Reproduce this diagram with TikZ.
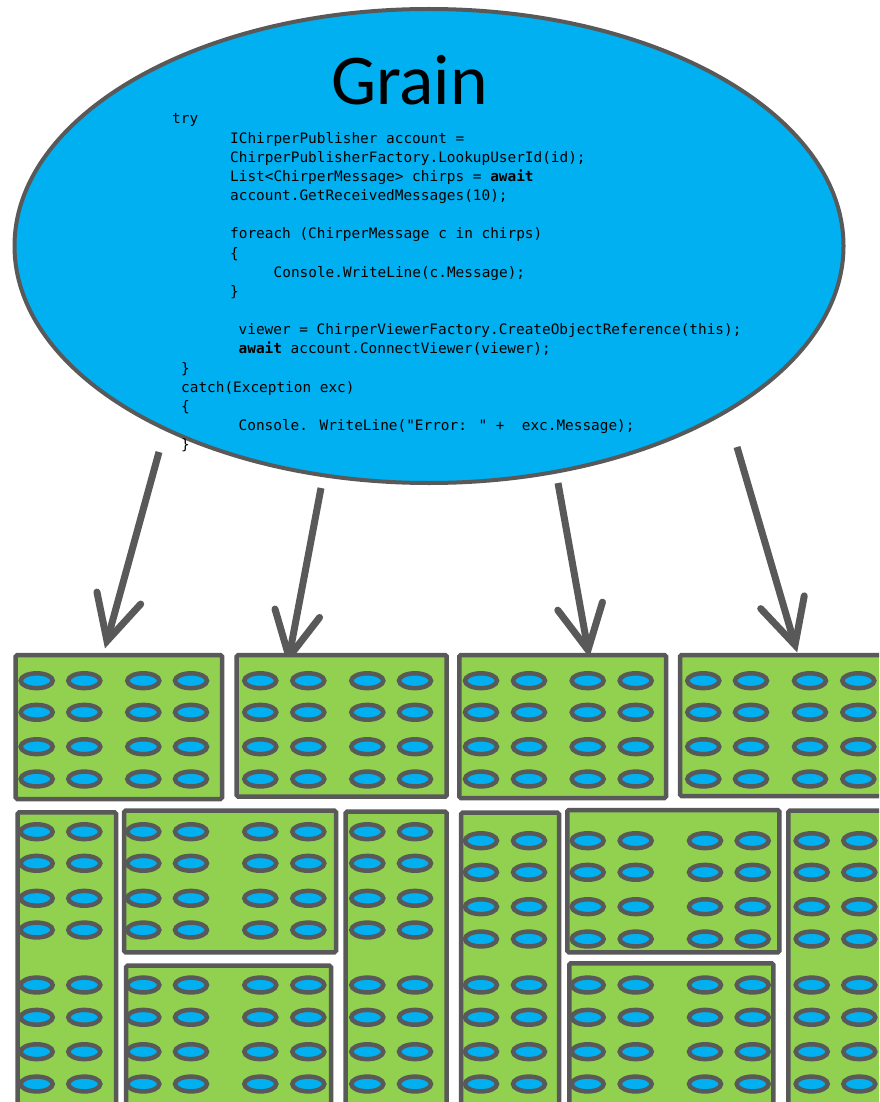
\documentclass[tikz,border=0pt]{standalone}
\usepackage{fontspec}
\usetikzlibrary{shapes.geometric,calc}
\newfontfamily\codefont{DejaVu Sans Mono}
\newfontfamily\grainfont{Carlito}
\definecolor{grainblue}{HTML}{00B0F0}
\definecolor{boxgreen}{HTML}{92D050}
\definecolor{edgegray}{HTML}{595959}
\begin{document}
\begin{tikzpicture}[x=1pt,y=-1pt,
  code/.style={anchor=base west,inner sep=0pt,font=\codefont\fontsize{14.4}{17}\selectfont},
  grainshape/.style={draw=edgegray,fill=grainblue,line width=4pt,ellipse,inner sep=0pt,minimum width=829pt,minimum height=474pt},
  box/.style={draw=edgegray,fill=boxgreen,line width=4.5pt,rounded corners=1.5pt},
  cell/.style={draw=edgegray,fill=grainblue,line width=4.5pt},
  shaft/.style={draw=edgegray,line width=7pt},
  barb/.style={draw=edgegray,line width=7pt,line cap=round,line join=miter}]
\useasboundingbox (0,0) rectangle (879,1102);
\clip (0,0) rectangle (879,1102);

% Grain ellipse
\node[grainshape] (grain) at (429,246) {};
\node[anchor=base,inner sep=0pt,font=\grainfont\fontsize{71.5}{80}\selectfont] (title) at (409.5,105) {Grain};

% code
\node[code] (l0) at (172,124) {try};
\node[code] (l1) at (230,143.2) {IChirperPublisher account =};
\node[code] (l2) at (230,162.3) {ChirperPublisherFactory.LookupUserId(id);};
\node[code] (l3) at (230,181.5) {List<ChirperMessage> chirps = \textbf{await}};
\node[code] (l4) at (230,200.6) {account.GetReceivedMessages(10);};
\node[code] (l5) at (230,238.9) {foreach (ChirperMessage c in chirps)};
\node[code] (l6) at (230,258) {\{};
\node[code] (l7) at (273.5,277.2) {Console.WriteLine(c.Message);};
\node[code] (l8) at (230,296.4) {\}};
\node[code] (l9) at (238.5,334.7) {viewer = ChirperViewerFactory.CreateObjectReference(this);};
\node[code] (l10) at (238.5,353.8) {\textbf{await} account.ConnectViewer(viewer);};
\node[code] (l11) at (181,373) {\}};
\node[code] (l12) at (181,392.1) {catch(Exception exc)};
\node[code] (l13) at (181,411.3) {\{};
\node[code] (l14) at (238.5,430.4) {Console. WriteLine("Error: " +\ \ exc.Message);};
\node[code] (l15) at (181,449.6) {\}};

% arrows
\coordinate (s1) at (159,452);   \coordinate (t1) at (107,641);
\coordinate (s2) at (321,488);   \coordinate (t2) at (289,657);
\coordinate (s3) at (558,483);   \coordinate (t3) at (588,650);
\coordinate (s4) at (737,447);   \coordinate (t4) at (795,645);
\foreach \i in {1,2,3,4}{
  \draw[shaft] (s\i) -- (t\i);
  \draw[barb] ($(t\i)!50pt!27:(s\i)$) -- (t\i) -- ($(t\i)!50pt!-27:(s\i)$);
}

% top row boxes
\draw[box] (15.7,655) rectangle (222,799);
\draw[box] (236.7,655) rectangle (446.7,796.7);
\draw[box] (459.3,655) rectangle (666,798);
\draw[box] (680,655) rectangle (905,796);
\foreach \x in {36.7,84.3,143.3,191,260.3,308.3,367.3,415,481,529,587.7,635.7,703.3,751,810,858.3}
  \foreach \y in {680.7,712.3,746.7,779}
    \draw[cell] (\x,\y) ellipse [x radius=16,y radius=7.4];

% bottom left group
\draw[box] (17.7,812.3) rectangle (116,1120);
\draw[box] (124,810.7) rectangle (336,952.3);
\draw[box] (126,965.7) rectangle (331,1120);
\draw[box] (345.7,811.7) rectangle (446.7,1120);
\foreach \x in {36.7,84.3,367.3,415}
  \foreach \y in {831.7,863.3,898.3,930,985,1017.3,1051.7,1084}
    \draw[cell] (\x,\y) ellipse [x radius=16,y radius=7.4];
\foreach \x in {143.3,191,260.3,308.3}
  \foreach \y in {831.7,863.3,898.3,930,985,1017.3,1051.7,1084}
    \draw[cell] (\x,\y) ellipse [x radius=16,y radius=7.4];

% bottom right group
\draw[box] (461,812.7) rectangle (559,1120);
\draw[box] (567.3,810) rectangle (779.3,952.3);
\draw[box] (569.3,963.3) rectangle (773.3,1120);
\draw[box] (788.3,810.7) rectangle (905,1120);
\foreach \x in {481,529,587.7,635.7,705,752.7,811.7,859.3}
  \foreach \y in {840.7,872.3,906.7,939,985,1017.3,1051.7,1084}
    \draw[cell] (\x,\y) ellipse [x radius=16,y radius=7.4];
\end{tikzpicture}
\end{document}
